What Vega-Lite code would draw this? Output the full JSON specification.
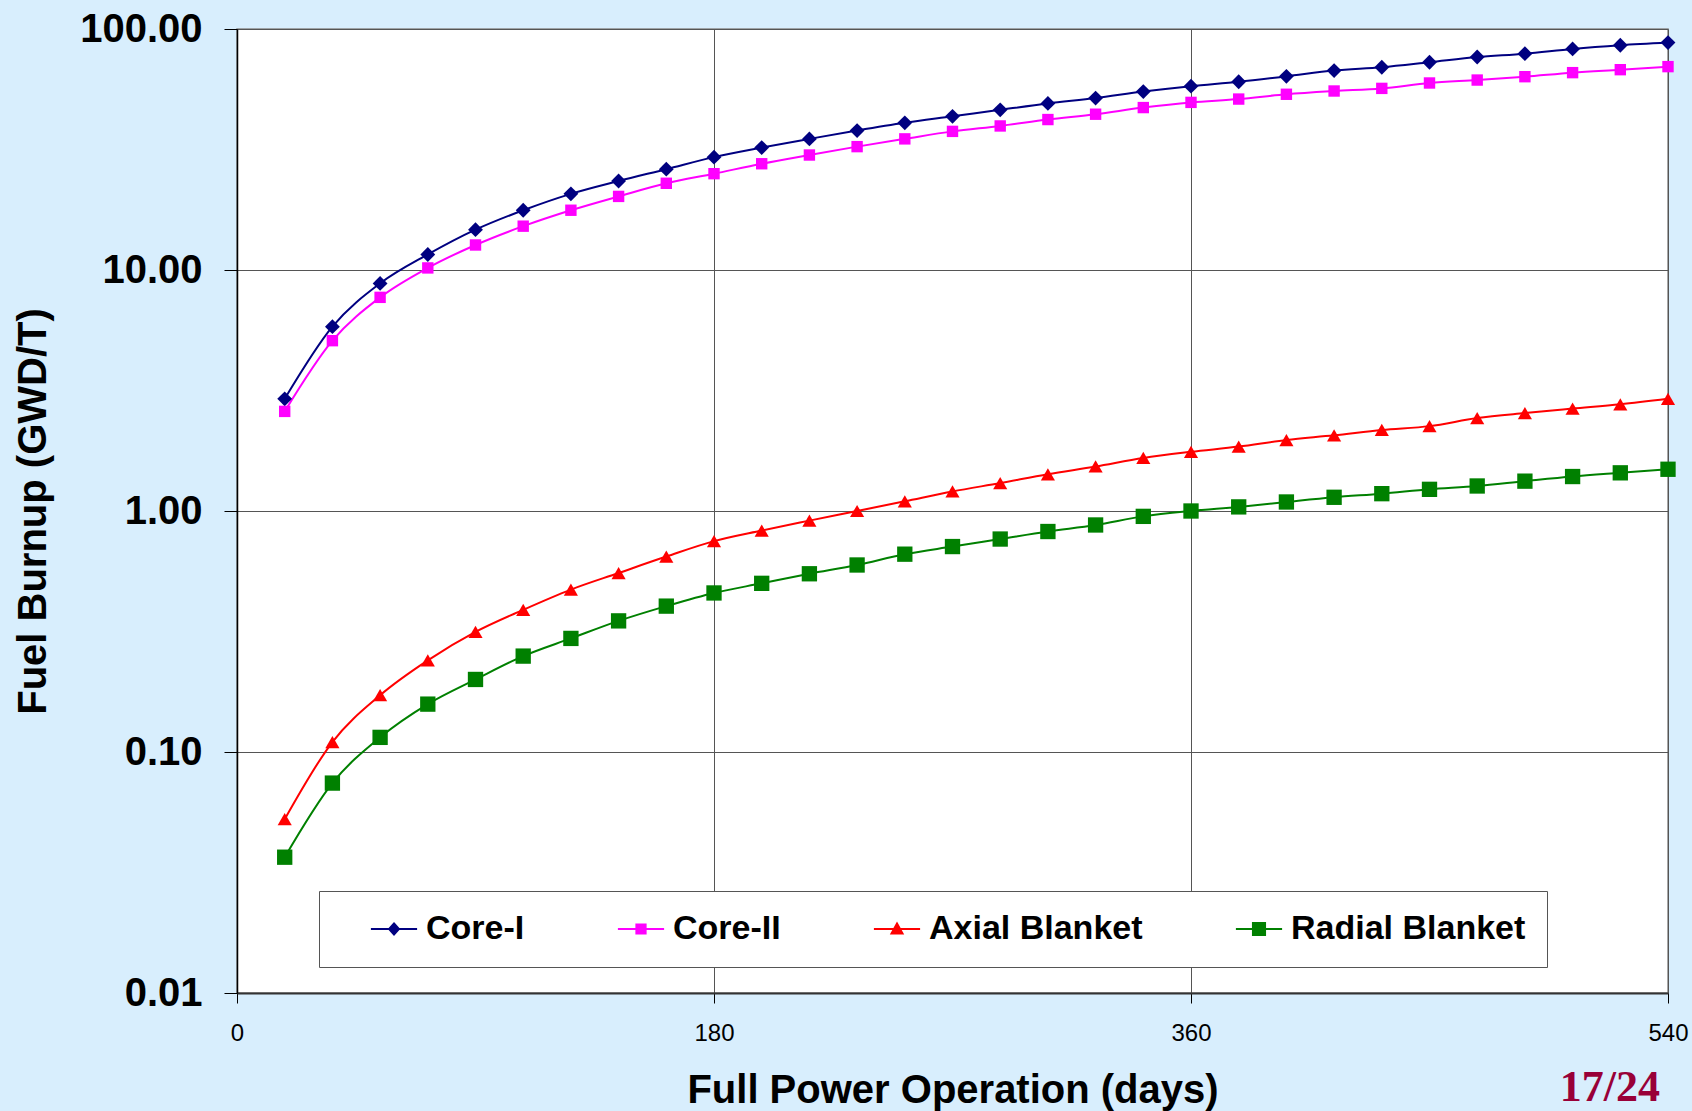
{
  "$schema": "https://vega.github.io/schema/vega-lite/v6.json",
  "width": 1431,
  "height": 964,
  "autosize": {"type": "none"},
  "padding": {"left": 237, "top": 29, "right": 24, "bottom": 118},
  "background": "#d8eefd",
  "title": {"text": "17/24", "orient": "bottom", "anchor": "end", "frame": "group", "font": "Liberation Serif", "fontSize": 44, "fontWeight": "bold", "color": "#990038", "offset": -44, "dx": -8, "baseline": "top"},
  "data": {"values": [
    {"day": 18, "series": "Core-I", "burnup": 2.92}, {"day": 36, "series": "Core-I", "burnup": 5.82}, {"day": 54, "series": "Core-I", "burnup": 8.8}, {"day": 72, "series": "Core-I", "burnup": 11.6}, {"day": 90, "series": "Core-I", "burnup": 14.7}, {"day": 108, "series": "Core-I", "burnup": 17.7}, {"day": 126, "series": "Core-I", "burnup": 20.7}, {"day": 144, "series": "Core-I", "burnup": 23.4}, {"day": 162, "series": "Core-I", "burnup": 26.2}, {"day": 180, "series": "Core-I", "burnup": 29.4}, {"day": 198, "series": "Core-I", "burnup": 32.2}, {"day": 216, "series": "Core-I", "burnup": 35.0}, {"day": 234, "series": "Core-I", "burnup": 37.9}, {"day": 252, "series": "Core-I", "burnup": 40.8}, {"day": 270, "series": "Core-I", "burnup": 43.4}, {"day": 288, "series": "Core-I", "burnup": 46.2}, {"day": 306, "series": "Core-I", "burnup": 49.1}, {"day": 324, "series": "Core-I", "burnup": 51.7}, {"day": 342, "series": "Core-I", "burnup": 55.0}, {"day": 360, "series": "Core-I", "burnup": 57.9}, {"day": 378, "series": "Core-I", "burnup": 60.4}, {"day": 396, "series": "Core-I", "burnup": 63.6}, {"day": 414, "series": "Core-I", "burnup": 67.2}, {"day": 432, "series": "Core-I", "burnup": 69.4}, {"day": 450, "series": "Core-I", "burnup": 72.8}, {"day": 468, "series": "Core-I", "burnup": 76.5}, {"day": 486, "series": "Core-I", "burnup": 79.0}, {"day": 504, "series": "Core-I", "burnup": 82.7}, {"day": 522, "series": "Core-I", "burnup": 85.6}, {"day": 540, "series": "Core-I", "burnup": 87.8},
    {"day": 18, "series": "Core-II", "burnup": 2.59}, {"day": 36, "series": "Core-II", "burnup": 5.09}, {"day": 54, "series": "Core-II", "burnup": 7.7}, {"day": 72, "series": "Core-II", "burnup": 10.2}, {"day": 90, "series": "Core-II", "burnup": 12.7}, {"day": 108, "series": "Core-II", "burnup": 15.2}, {"day": 126, "series": "Core-II", "burnup": 17.7}, {"day": 144, "series": "Core-II", "burnup": 20.2}, {"day": 162, "series": "Core-II", "burnup": 22.9}, {"day": 180, "series": "Core-II", "burnup": 25.1}, {"day": 198, "series": "Core-II", "burnup": 27.6}, {"day": 216, "series": "Core-II", "burnup": 30.0}, {"day": 234, "series": "Core-II", "burnup": 32.5}, {"day": 252, "series": "Core-II", "burnup": 35.0}, {"day": 270, "series": "Core-II", "burnup": 37.6}, {"day": 288, "series": "Core-II", "burnup": 39.6}, {"day": 306, "series": "Core-II", "burnup": 42.1}, {"day": 324, "series": "Core-II", "burnup": 44.3}, {"day": 342, "series": "Core-II", "burnup": 47.2}, {"day": 360, "series": "Core-II", "burnup": 49.6}, {"day": 378, "series": "Core-II", "burnup": 51.2}, {"day": 396, "series": "Core-II", "burnup": 53.6}, {"day": 414, "series": "Core-II", "burnup": 55.3}, {"day": 432, "series": "Core-II", "burnup": 56.7}, {"day": 450, "series": "Core-II", "burnup": 59.7}, {"day": 468, "series": "Core-II", "burnup": 61.4}, {"day": 486, "series": "Core-II", "burnup": 63.4}, {"day": 504, "series": "Core-II", "burnup": 65.9}, {"day": 522, "series": "Core-II", "burnup": 67.8}, {"day": 540, "series": "Core-II", "burnup": 69.8},
    {"day": 18, "series": "Axial Blanket", "burnup": 0.0526}, {"day": 36, "series": "Axial Blanket", "burnup": 0.110}, {"day": 54, "series": "Axial Blanket", "burnup": 0.172}, {"day": 72, "series": "Axial Blanket", "burnup": 0.240}, {"day": 90, "series": "Axial Blanket", "burnup": 0.315}, {"day": 108, "series": "Axial Blanket", "burnup": 0.389}, {"day": 126, "series": "Axial Blanket", "burnup": 0.472}, {"day": 144, "series": "Axial Blanket", "burnup": 0.553}, {"day": 162, "series": "Axial Blanket", "burnup": 0.647}, {"day": 180, "series": "Axial Blanket", "burnup": 0.750}, {"day": 198, "series": "Axial Blanket", "burnup": 0.830}, {"day": 216, "series": "Axial Blanket", "burnup": 0.912}, {"day": 234, "series": "Axial Blanket", "burnup": 1.0}, {"day": 252, "series": "Axial Blanket", "burnup": 1.097}, {"day": 270, "series": "Axial Blanket", "burnup": 1.205}, {"day": 288, "series": "Axial Blanket", "burnup": 1.306}, {"day": 306, "series": "Axial Blanket", "burnup": 1.42}, {"day": 324, "series": "Axial Blanket", "burnup": 1.53}, {"day": 342, "series": "Axial Blanket", "burnup": 1.66}, {"day": 360, "series": "Axial Blanket", "burnup": 1.76}, {"day": 378, "series": "Axial Blanket", "burnup": 1.85}, {"day": 396, "series": "Axial Blanket", "burnup": 1.97}, {"day": 414, "series": "Axial Blanket", "burnup": 2.06}, {"day": 432, "series": "Axial Blanket", "burnup": 2.17}, {"day": 450, "series": "Axial Blanket", "burnup": 2.25}, {"day": 468, "series": "Axial Blanket", "burnup": 2.43}, {"day": 486, "series": "Axial Blanket", "burnup": 2.55}, {"day": 504, "series": "Axial Blanket", "burnup": 2.66}, {"day": 522, "series": "Axial Blanket", "burnup": 2.77}, {"day": 540, "series": "Axial Blanket", "burnup": 2.92},
    {"day": 18, "series": "Radial Blanket", "burnup": 0.0366}, {"day": 36, "series": "Radial Blanket", "burnup": 0.0743}, {"day": 54, "series": "Radial Blanket", "burnup": 0.115}, {"day": 72, "series": "Radial Blanket", "burnup": 0.158}, {"day": 90, "series": "Radial Blanket", "burnup": 0.200}, {"day": 108, "series": "Radial Blanket", "burnup": 0.250}, {"day": 126, "series": "Radial Blanket", "burnup": 0.296}, {"day": 144, "series": "Radial Blanket", "burnup": 0.350}, {"day": 162, "series": "Radial Blanket", "burnup": 0.403}, {"day": 180, "series": "Radial Blanket", "burnup": 0.457}, {"day": 198, "series": "Radial Blanket", "burnup": 0.501}, {"day": 216, "series": "Radial Blanket", "burnup": 0.549}, {"day": 234, "series": "Radial Blanket", "burnup": 0.597}, {"day": 252, "series": "Radial Blanket", "burnup": 0.662}, {"day": 270, "series": "Radial Blanket", "burnup": 0.712}, {"day": 288, "series": "Radial Blanket", "burnup": 0.765}, {"day": 306, "series": "Radial Blanket", "burnup": 0.822}, {"day": 324, "series": "Radial Blanket", "burnup": 0.875}, {"day": 342, "series": "Radial Blanket", "burnup": 0.950}, {"day": 360, "series": "Radial Blanket", "burnup": 1.0}, {"day": 378, "series": "Radial Blanket", "burnup": 1.04}, {"day": 396, "series": "Radial Blanket", "burnup": 1.09}, {"day": 414, "series": "Radial Blanket", "burnup": 1.14}, {"day": 432, "series": "Radial Blanket", "burnup": 1.18}, {"day": 450, "series": "Radial Blanket", "burnup": 1.23}, {"day": 468, "series": "Radial Blanket", "burnup": 1.27}, {"day": 486, "series": "Radial Blanket", "burnup": 1.33}, {"day": 504, "series": "Radial Blanket", "burnup": 1.39}, {"day": 522, "series": "Radial Blanket", "burnup": 1.44}, {"day": 540, "series": "Radial Blanket", "burnup": 1.49}
  ]},
  "encoding": {
    "x": {"field": "day", "type": "quantitative", "title": "Full Power Operation (days)",
      "scale": {"domain": [0, 540], "nice": false, "zero": false},
      "axis": {"values": [0, 180, 360, 540], "labelFontSize": 24, "labelFontWeight": "normal", "tickSize": 10, "labelPadding": 18, "titleFontSize": 40, "titleFontWeight": "bold", "titlePadding": 25, "grid": true, "labelFlush": false, "labelOverlap": false, "domainColor": "#333", "domainWidth": 2}},
    "y": {"field": "burnup", "type": "quantitative", "title": "Fuel Burnup (GWD/T)",
      "scale": {"type": "log", "domain": [0.01, 100], "nice": false},
      "axis": {"values": [0.01, 0.1, 1, 10, 100], "format": ".2f", "labelFontSize": 40, "labelFontWeight": "bold", "tickSize": 13, "labelPadding": 22, "titleFontSize": 40, "titleFontWeight": "bold", "titlePadding": 26, "grid": true, "domainColor": "#000", "domainWidth": 1.5}},
    "color": {"field": "series", "type": "nominal",
      "scale": {"domain": ["Core-I", "Core-II", "Axial Blanket", "Radial Blanket"], "range": ["#000080", "#ff00ff", "#ff0000", "#008000"]}}
  },
  "layer": [
    {"mark": {"type": "point", "filled": true, "opacity": 0, "size": 484},
     "encoding": {
       "color": {"field": "series", "type": "nominal",
         "scale": {"domain": ["Core-I", "Core-II", "Axial Blanket", "Radial Blanket"], "range": ["#000080", "#ff00ff", "#ff0000", "#008000"]},
         "legend": {"title": null, "encode": {"symbols": {"update": {"stroke": {"scale": "color", "field": "value"}, "fill": {"scale": "color", "field": "value"}, "shape": {"scale": "shape", "field": "value"}, "size": {"value": 484}, "strokeWidth": {"value": 2}, "opacity": {"value": 1}}}}}},
       "shape": {"field": "series", "type": "nominal",
         "scale": {"domain": ["Core-I", "Core-II", "Axial Blanket", "Radial Blanket"], "range": ["M-2.1,0H2.1M0,-0.5L0.45,0L0,0.5L-0.45,0Z", "M-2.1,0H2.1M-0.42,-0.42H0.42V0.42H-0.42Z", "M-2.1,0H2.1M0,-0.5L0.5,0.4H-0.5Z", "M-2.1,0H2.1M-0.55,-0.55H0.55V0.55H-0.55Z"]},
         "legend": {"title": null, "encode": {"symbols": {"update": {"stroke": {"scale": "color", "field": "value"}, "fill": {"scale": "color", "field": "value"}, "shape": {"scale": "shape", "field": "value"}, "size": {"value": 484}, "strokeWidth": {"value": 2}, "opacity": {"value": 1}}}}}}
     }},
    {"mark": {"type": "line", "interpolate": "monotone", "strokeWidth": 2}},
    {"transform": [{"filter": "datum.series === 'Core-I'"}], "mark": {"type": "point", "shape": "diamond", "filled": true, "size": 220, "opacity": 1}},
    {"transform": [{"filter": "datum.series === 'Core-II'"}], "mark": {"type": "point", "shape": "square", "filled": true, "size": 130, "opacity": 1}},
    {"transform": [{"filter": "datum.series === 'Axial Blanket'"}], "mark": {"type": "point", "shape": "triangle-up", "filled": true, "size": 200, "opacity": 1}},
    {"transform": [{"filter": "datum.series === 'Radial Blanket'"}], "mark": {"type": "point", "shape": "square", "filled": true, "size": 235, "opacity": 1}}
  ],
  "config": {
    "font": "Liberation Sans",
    "view": {"fill": "#ffffff", "stroke": "#8a8a8a", "strokeWidth": 1.5},
    "axis": {"gridColor": "#555555", "gridWidth": 1, "gridOpacity": 1, "tickColor": "#000", "labelColor": "#000", "titleColor": "#000", "labelFont": "Liberation Sans", "titleFont": "Liberation Sans"},
    "legend": {"orient": "none", "legendX": 82, "legendY": 862, "direction": "horizontal", "fillColor": "#ffffff", "strokeColor": "#555555", "padding": 21, "labelFont": "Liberation Sans", "labelFontSize": 34, "labelFontWeight": "bold", "labelColor": "#000", "symbolSize": 484, "symbolStrokeWidth": 2, "symbolOffset": 37, "labelOffset": 15, "columnPadding": 62, "labelLimit": 600}
  }
}
